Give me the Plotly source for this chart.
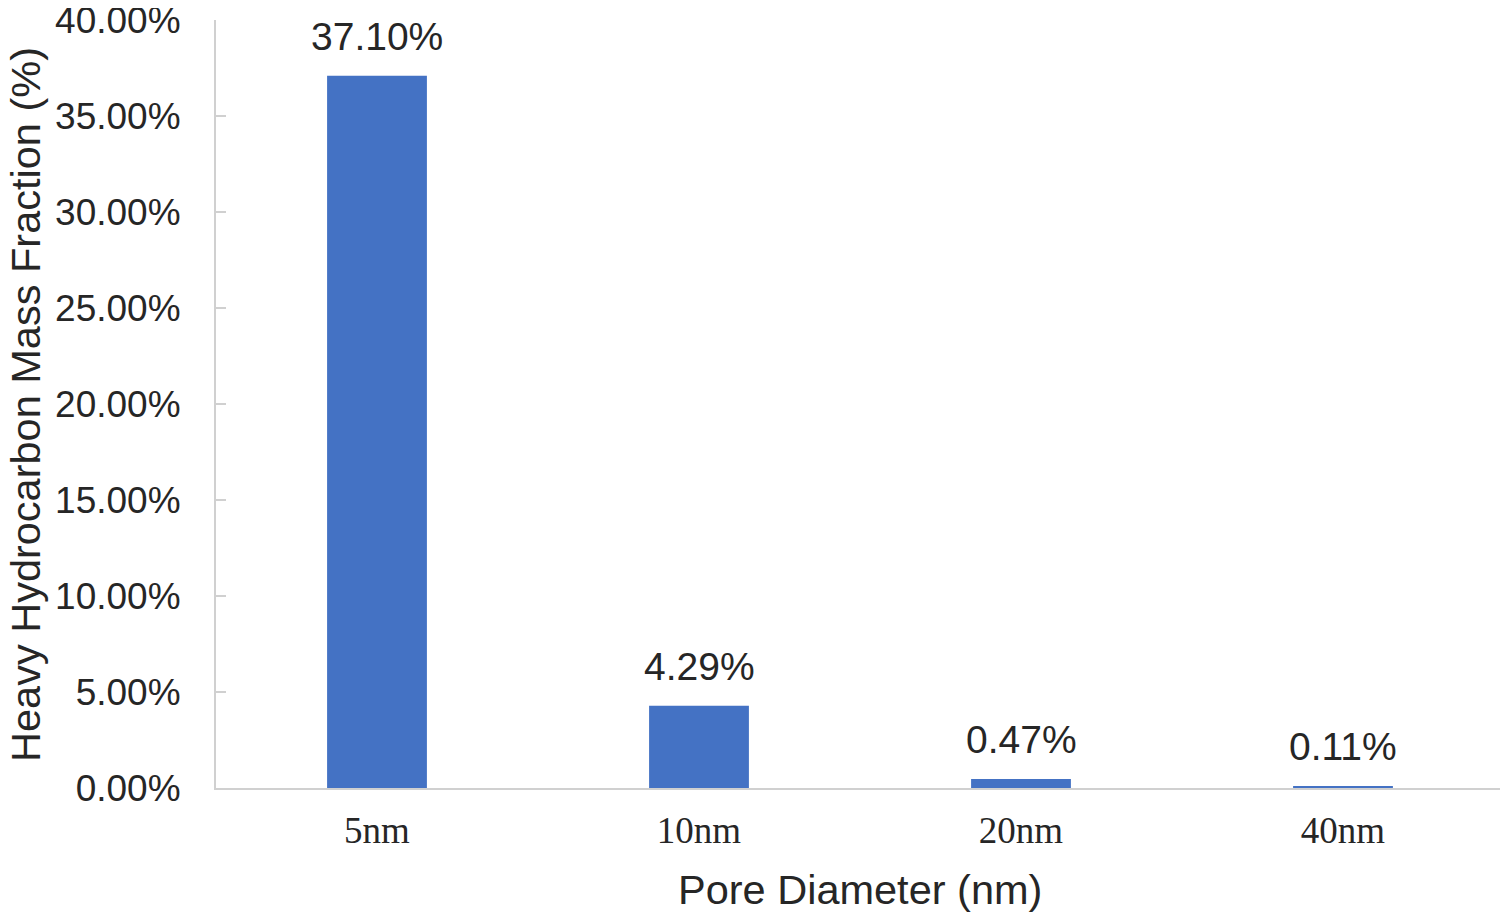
import plotly.graph_objects as go

# pore sizes and heavy hydrocarbon mass fraction (%)
pore_sizes = ["5nm", "10nm", "20nm", "40nm"]
mass_fraction = [37.10, 4.29, 0.47, 0.11]
y_ticks = [0, 5, 10, 15, 20, 25, 30, 35, 40]

sans = "Liberation Sans, Arial, sans-serif"
serif = "Liberation Serif, Times New Roman, serif"
text_col = "#262626"
axis_col = "#d0d0d0"

fig = go.Figure()
fig.add_trace(go.Bar(
    x=pore_sizes, y=mass_fraction,
    marker=dict(color="#4472C4", line=dict(width=0)),
    width=0.31,
    hoverinfo="skip",
))

# value labels above the bars
for cat, val in zip(pore_sizes, mass_fraction):
    fig.add_annotation(x=cat, y=val, text=f"{val:.2f}%", showarrow=False,
                       yanchor="bottom", yshift=16,
                       font=dict(family=sans, size=39, color=text_col))

# axis titles
fig.add_annotation(text="Pore Diameter (nm)", xref="paper", yref="paper",
                   x=0.5, y=-0.1328, showarrow=False,
                   xanchor="center", yanchor="middle",
                   font=dict(family=sans, size=41.5, color=text_col))
fig.add_annotation(text="Heavy Hydrocarbon Mass Fraction (%)", xref="paper", yref="paper",
                   x=-0.1483, y=0.5, showarrow=False, textangle=-90,
                   xanchor="center", yanchor="middle",
                   font=dict(family=sans, size=41.5, color=text_col))

# page body has an 8px margin, so the figure is sized to fit the window
fig.update_layout(
    width=1500, height=909,
    margin=dict(l=208, r=4, t=12, b=129),
    paper_bgcolor="white", plot_bgcolor="white",
    showlegend=False,
    xaxis=dict(
        tickfont=dict(family=serif, size=37, color=text_col),
        showline=True, linecolor=axis_col, linewidth=2,
        ticks="", ticklabelstandoff=9,
        showgrid=False, automargin=False,
    ),
    yaxis=dict(
        tickfont=dict(family=sans, size=37, color=text_col),
        range=[0, 40.01], tickmode="array", tickvals=y_ticks,
        ticktext=[f"{v:.2f}%" for v in y_ticks],
        ticklabeloverflow="allow",
        showline=True, linecolor=axis_col, linewidth=2,
        ticks="inside", ticklen=10, tickwidth=2, tickcolor=axis_col,
        ticklabelstandoff=26,
        showgrid=False, zeroline=False, automargin=False,
    ),
)

fig.write_html("out.html")
